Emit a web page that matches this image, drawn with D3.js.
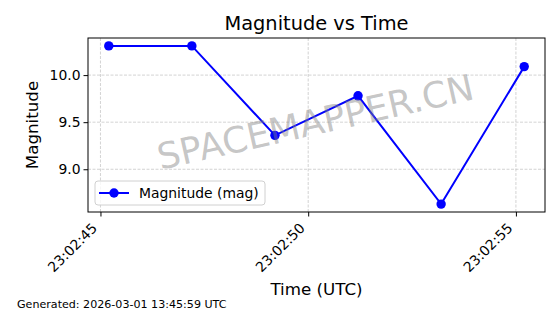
<!DOCTYPE html>
<html>
<head>
<meta charset="utf-8">
<script src="https://cdn.jsdelivr.net/npm/d3@7"></script>
<style>
  body { margin: 0; background: #fff; }
  svg { font-family: 'DejaVu Sans', sans-serif; display: block; }
</style>
</head>
<body>
<div id="chart"></div>
<script>
// data
var times = ['23:02:45.2', '23:02:47.2', '23:02:49.2', '23:02:51.2', '23:02:53.2', '23:02:55.2'];
var mags = [10.31, 10.31, 9.36, 9.78, 8.63, 10.09];
var xTicks = ['23:02:45', '23:02:50', '23:02:55'];
var yTicks = [9.0, 9.5, 10.0];

var W = 560, H = 314;
var margin = {top: 38, right: 15, bottom: 102, left: 88},
    width = W - margin.left - margin.right,
    height = H - margin.top - margin.bottom;

var parse = function(s) {
  var p = s.split(':');
  return new Date(Date.UTC(2026, 2, 1, +p[0], +p[1], 0) + (+p[2]) * 1000);
};
var data = times.map(function(t, i) { return {t: parse(t), v: mags[i]}; });

var svg = d3.select('#chart')
  .append('svg')
    .attr('width', W)
    .attr('height', H);
var g = svg.append('g')
    .attr('transform', 'translate(' + margin.left + ',' + margin.top + ')');

// scales with matplotlib-like 5% margins
var tExt = d3.extent(data, function(d) { return +d.t; });
var tPad = (tExt[1] - tExt[0]) * 0.05;
var x = d3.scaleUtc()
  .domain([new Date(tExt[0] - tPad), new Date(tExt[1] + tPad)])
  .range([0, width]);
var vExt = d3.extent(mags);
var vPad = (vExt[1] - vExt[0]) * 0.05;
var y = d3.scaleLinear()
  .domain([vExt[0] - vPad, vExt[1] + vPad])
  .range([height, 0]);

var xTickDates = xTicks.map(parse);

// grid
g.append('g').selectAll('line')
  .data(xTickDates).enter().append('line')
    .attr('x1', function(d) { return x(d); })
    .attr('x2', function(d) { return x(d); })
    .attr('y1', 0).attr('y2', height)
    .attr('stroke', '#b0b0b0').attr('stroke-opacity', 0.7)
    .attr('stroke-dasharray', '3,1.5').attr('stroke-width', 0.8);
g.append('g').selectAll('line')
  .data(yTicks).enter().append('line')
    .attr('x1', 0).attr('x2', width)
    .attr('y1', function(d) { return y(d); })
    .attr('y2', function(d) { return y(d); })
    .attr('stroke', '#b0b0b0').attr('stroke-opacity', 0.7)
    .attr('stroke-dasharray', '3,1.5').attr('stroke-width', 0.8);

// watermark
svg.append('text')
  .attr('transform', 'translate(316,124.5) rotate(-12.7)')
  .attr('text-anchor', 'middle')
  .attr('dominant-baseline', 'middle')
  .style('font-size', '36px')
  .attr('fill', '#808080')
  .attr('fill-opacity', 0.45)
  .text('SPACEMAPPER.CN');

// line + markers
g.append('path')
  .datum(data)
  .attr('fill', 'none')
  .attr('stroke', '#0000ff')
  .attr('stroke-width', 2)
  .attr('d', d3.line()
    .x(function(d) { return x(d.t); })
    .y(function(d) { return y(d.v); }));
g.selectAll('circle.pt')
  .data(data).enter().append('circle')
    .attr('class', 'pt')
    .attr('cx', function(d) { return x(d.t); })
    .attr('cy', function(d) { return y(d.v); })
    .attr('r', 4.7)
    .attr('fill', '#0000ff');

// axes
var xAxis = g.append('g')
  .attr('transform', 'translate(0,' + height + ')')
  .call(d3.axisBottom(x).tickValues(xTickDates)
    .tickFormat(d3.utcFormat('%H:%M:%S')).tickSize(4.5).tickPadding(3));
xAxis.attr('font-family', null).attr('font-size', null);
xAxis.select('.domain').remove();
xAxis.selectAll('text')
  .style('font-size', '13.9px')
  .attr('fill', '#000')
  .attr('text-anchor', 'end')
  .attr('dy', null)
  .attr('y', 0)
  .attr('transform', 'translate(-3,17) rotate(-45)');

var yAxis = g.append('g')
  .call(d3.axisLeft(y).tickValues(yTicks)
    .tickFormat(d3.format('.1f')).tickSize(4.5).tickPadding(3));
yAxis.attr('font-family', null).attr('font-size', null);
yAxis.select('.domain').remove();
yAxis.selectAll('text').style('font-size', '13.9px').attr('fill', '#000');

// frame
g.append('rect')
  .attr('width', width).attr('height', height)
  .attr('fill', 'none').attr('stroke', '#000').attr('stroke-width', 1);

// legend
var leg = g.append('g').attr('transform', 'translate(7,' + (height - 31) + ')');
leg.append('rect')
  .attr('width', 170).attr('height', 24).attr('rx', 3)
  .attr('fill', '#fff').attr('fill-opacity', 0.8)
  .attr('stroke', '#d0d0d0');
leg.append('line')
  .attr('x1', 4).attr('x2', 34).attr('y1', 12).attr('y2', 12)
  .attr('stroke', '#0000ff').attr('stroke-width', 2);
leg.append('circle').attr('cx', 19).attr('cy', 12).attr('r', 4.7).attr('fill', '#0000ff');
leg.append('text')
  .attr('x', 44).attr('y', 16.5)
  .style('font-size', '13.9px')
  .text('Magnitude (mag)');

// titles
svg.append('text')
  .attr('x', margin.left + width / 2).attr('y', 30)
  .attr('text-anchor', 'middle')
  .style('font-size', '19.4px')
  .text('Magnitude vs Time');
svg.append('text')
  .attr('x', margin.left + width / 2).attr('y', 295)
  .attr('text-anchor', 'middle')
  .style('font-size', '16.7px')
  .text('Time (UTC)');
svg.append('text')
  .attr('transform', 'translate(37.5,' + (margin.top + height / 2) + ') rotate(-90)')
  .attr('text-anchor', 'middle')
  .style('font-size', '16.7px')
  .text('Magnitude');
svg.append('text')
  .attr('x', 17).attr('y', 308)
  .style('font-size', '11.1px')
  .text('Generated: 2026-03-01 13:45:59 UTC');
</script>
</body>
</html>
